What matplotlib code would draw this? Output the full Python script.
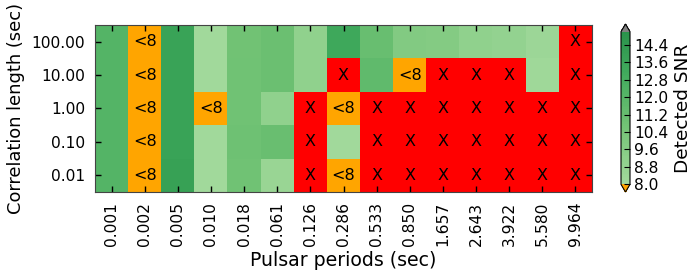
import numpy as np
import matplotlib
matplotlib.use("Agg")
import matplotlib.pyplot as plt
from matplotlib.colors import ListedColormap

NA = np.nan   # not detected -> "X"
LOW = 7.0     # detected below threshold -> "<8"

periods = ['0.001', '0.002', '0.005', '0.010', '0.018', '0.061', '0.126', '0.286',
           '0.533', '0.850', '1.657', '2.643', '3.922', '5.580', '9.964']
corr_lengths = ['100.00', '10.00', '1.00', '0.10', '0.01']

snr_100 = [12.1, LOW, 13.7, 8.1, 10.7, 11.0, 9.0, 13.3, 11.2, 9.8, 9.7, 9.0, 8.9, 8.4, NA]
snr_10 = [12.1, LOW, 13.7, 8.1, 10.8, 11.0, 9.0, NA, 11.6, LOW, NA, NA, NA, 8.2, NA]
snr_1 = [12.1, LOW, 13.7, LOW, 10.8, 9.0, NA, LOW, NA, NA, NA, NA, NA, NA, NA]
snr_01 = [12.1, LOW, 13.7, 8.1, 10.9, 11.1, NA, 8.1, NA, NA, NA, NA, NA, NA, NA]
snr_001 = [12.1, LOW, 13.8, 8.1, 10.8, 8.5, NA, LOW, NA, NA, NA, NA, NA, NA, NA]

data = np.array([snr_100, snr_10, snr_1, snr_01, snr_001])

cmap = ListedColormap(plt.cm.Greens(np.linspace(0.37, 0.72, 256)))
cmap.set_under('orange')
cmap.set_over('gray')
cmap.set_bad('red')

fig = plt.figure(figsize=(6.95, 2.73), dpi=100)
ax = fig.add_axes([95/695, 1-192/273, 497/695, 167/273])
im = ax.imshow(np.ma.masked_invalid(data), cmap=cmap, vmin=8, vmax=15,
               aspect='auto', interpolation='nearest')

for i in range(data.shape[0]):
    for j in range(data.shape[1]):
        v = data[i, j]
        if np.isnan(v):
            ax.text(j, i, 'X', ha='center', va='center', fontsize=11.5)
        elif v < 8:
            ax.text(j, i, '<8', ha='center', va='center', fontsize=11.5)

ax.set_xticks(np.arange(len(periods)))
ax.set_xticklabels(periods, rotation=90, fontsize=11.2)
ax.set_yticks(np.arange(len(corr_lengths)))
ax.set_yticklabels(corr_lengths, fontsize=11.2)
ax.tick_params(direction='in', top=True, right=True, length=4, width=1, pad=7)
ax.set_xlabel('Pulsar periods (sec)', fontsize=13.6, labelpad=3)
ax.set_ylabel('Correlation length (sec)', fontsize=12.9, labelpad=5)
for s in ax.spines.values():
    s.set_color('#444444')

cax = fig.add_axes([621/695, 1-192/273, 9/695, 168/273])
cb = fig.colorbar(im, cax=cax, extend='both', ticks=np.arange(8.0, 14.41, 0.8))
cb.ax.set_yticklabels(['%.1f' % t for t in np.arange(8.0, 14.41, 0.8)], fontsize=11.2)
cb.ax.tick_params(direction='in', length=4, pad=3)
cb.set_label('Detected SNR', fontsize=13.3, labelpad=4)

fig.savefig('out.png', dpi=100)
